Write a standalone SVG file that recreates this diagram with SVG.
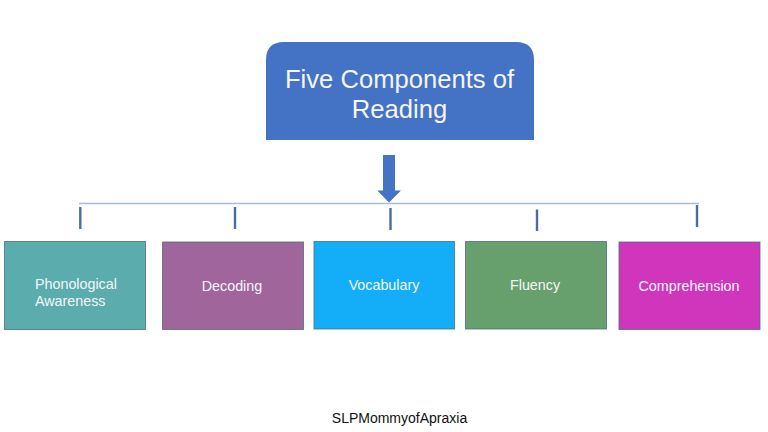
<svg xmlns="http://www.w3.org/2000/svg" width="768" height="432" viewBox="0 0 768 432">
<style>
text{font-family:"Liberation Sans",Arial,sans-serif;fill:#f4f6fb}
.t{font-size:14.3px}
.tick{stroke:#4a6ba3;stroke-width:2.4;fill:none}
.box{stroke:#4a6f80;stroke-opacity:.8;stroke-width:1}
</style>
<rect width="768" height="432" fill="#fff"/>
<g id="connectors">
<line x1="79" y1="203.500" x2="699" y2="203.500" stroke="#a9bbd8" stroke-width="1.300"/>
<line class="tick" x1="80.300" y1="207" x2="80.300" y2="229"/>
<line class="tick" x1="235" y1="207" x2="235" y2="229"/>
<line class="tick" x1="390.500" y1="208" x2="390.500" y2="230"/>
<line class="tick" x1="537" y1="209.500" x2="537" y2="231"/>
<line class="tick" x1="697" y1="205" x2="697" y2="227"/>
<polygon points="383,155 395,155 395,190.500 401,190.500 389,202.500 377.300,190.500 383,190.500" fill="#4472c4"/>
</g>
<g id="title">
<path d="M266 140V60Q266 42 284 42H516Q534 42 534 60V140Z" fill="#4472c4"/>
<text x="399.500" y="88" font-size="25.600" text-anchor="middle">Five Components of</text>
<text x="399.500" y="118" font-size="25.600" text-anchor="middle">Reading</text>
</g>
<g id="phonological">
<rect class="box" x="4.500" y="241.500" width="141" height="88" fill="#5bacad"/>
<text class="t" x="35" y="289">Phonological</text>
<text class="t" x="35" y="306">Awareness</text>
</g>
<g id="decoding">
<rect class="box" x="162.500" y="242" width="141" height="87.500" fill="#a0659b"/>
<text class="t" x="232" y="291" text-anchor="middle">Decoding</text>
</g>
<g id="vocabulary">
<rect class="box" x="314" y="241.500" width="140.500" height="87.500" fill="#14aef8"/>
<text class="t" x="384" y="289.500" text-anchor="middle">Vocabulary</text>
</g>
<g id="fluency">
<rect class="box" x="465.500" y="241.500" width="141" height="87.500" fill="#67a06c"/>
<text class="t" x="535" y="289.500" text-anchor="middle">Fluency</text>
</g>
<g id="comprehension">
<rect class="box" x="619" y="242" width="141" height="87.500" fill="#d036bc"/>
<text class="t" x="689" y="291" text-anchor="middle">Comprehension</text>
</g>
<g id="credit">
<text x="399.500" y="423" font-size="14" text-anchor="middle" style="fill:#111">SLPMommyofApraxia</text>
</g>
</svg>
